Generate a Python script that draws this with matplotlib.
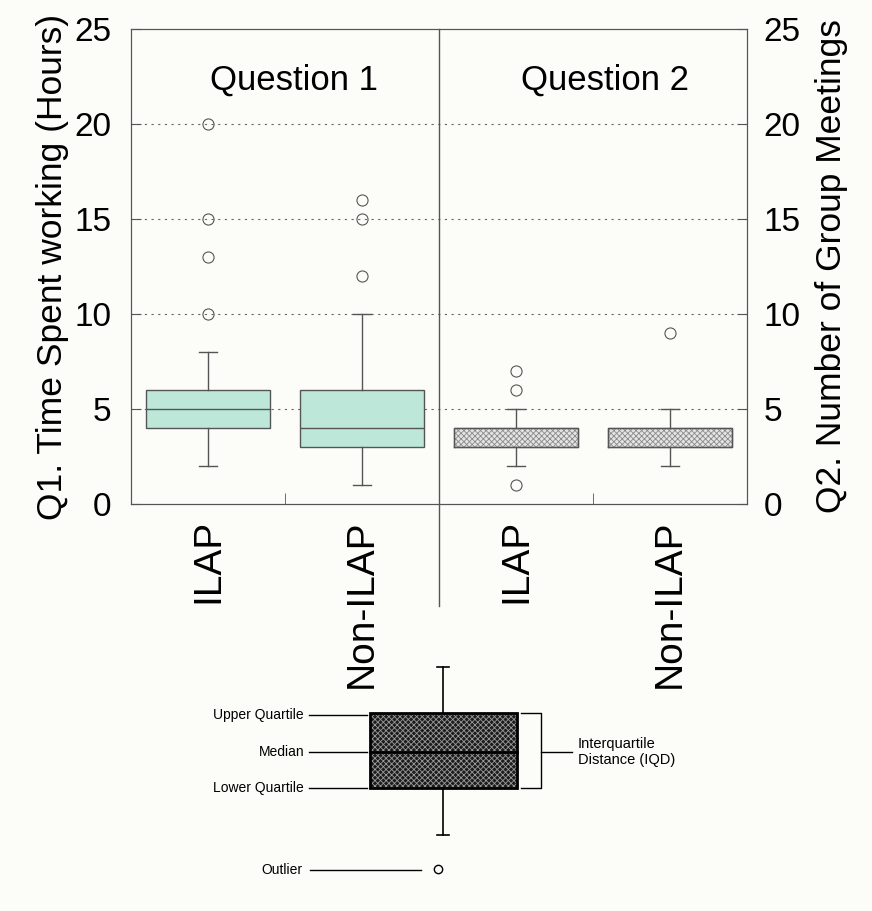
import matplotlib.pyplot as plt
from matplotlib.patches import Rectangle
from matplotlib.transforms import blended_transform_factory

plt.rcParams['font.family'] = ['Liberation Sans', 'DejaVu Sans']
plt.rcParams['hatch.linewidth'] = 0.6

# datos
grupos = ["ILAP", "Non-ILAP", "ILAP", "Non-ILAP"]
bigote_inf = [2, 1, 2, 2]
cuartil_inf = [4, 3, 3, 3]
mediana = [5, 4, 3, 3]
cuartil_sup = [6, 6, 4, 4]
bigote_sup = [8, 10, 5, 5]
atipicos = [[10, 13, 15, 20], [12, 15, 16], [1, 6, 7], [9]]
titulos = ["Question 1", "Question 2"]
marcas_y = [0, 5, 10, 15, 20, 25]
rejilla_y = [5, 10, 15, 20]

fondo = '#fcfcf8'
gris = '#555555'

fig = plt.figure(figsize=(8.72, 9.11), dpi=100, facecolor=fondo)
ax = fig.add_axes([131/872, 1-504/911, 616/872, 475/911], facecolor=fondo)

stats = []
for i in range(len(grupos)):
    stats.append({"whislo": bigote_inf[i], "q1": cuartil_inf[i], "med": mediana[i],
                  "q3": cuartil_sup[i], "whishi": bigote_sup[i], "fliers": atipicos[i]})
pos = list(range(1, len(grupos) + 1))

# rejilla punteada
for v in rejilla_y:
    ax.axhline(v, color='#666666', lw=0.8, ls=(0, (2, 4)), zorder=0)

flier = dict(marker='o', markersize=8, markerfacecolor='none', markeredgecolor=gris, markeredgewidth=0.8)
bp = ax.bxp(stats, positions=pos, widths=0.8, patch_artist=True, showfliers=True,
            flierprops=flier,
            boxprops=dict(edgecolor=gris, linewidth=1),
            medianprops=dict(color=gris, linewidth=1),
            whiskerprops=dict(color=gris, linewidth=1),
            capprops=dict(color=gris, linewidth=1), capwidths=0.12, zorder=2)
for i, caja in enumerate(bp['boxes']):
    if i < 2:
        caja.set_facecolor('#bde8d9')
    else:
        caja.set_facecolor('#e4e4e4')
        caja.set_edgecolor('#8a8a8a')
        caja.set_hatch('xxxxxx')
        bp['medians'][i].set_visible(False)
# contorno de las cajas con trama
ax.bxp(stats[2:], positions=pos[2:], widths=0.8, showfliers=False,
       boxprops=dict(color=gris, linewidth=1), medianprops=dict(visible=False),
       whiskerprops=dict(visible=False), capprops=dict(visible=False), zorder=3)

ax.set_xlim(0.5, 4.5)
ax.set_ylim(0, 25)
ax.set_xticks(pos)
ax.set_xticklabels(grupos, rotation=90, fontsize=28, va='top')
ax.set_xticks([1.5, 3.5], minor=True)
ax.tick_params(axis='x', which='major', length=0, pad=11)
ax.tick_params(axis='x', which='minor', direction='in', length=8, color=gris)
ax.set_yticks(marcas_y)
ax.tick_params(axis='y', direction='in', length=7, color=gris, labelsize=24, pad=14)
for s in ax.spines.values():
    s.set_color(gris)

# linea divisoria entre preguntas
trans = blended_transform_factory(ax.transData, ax.transAxes)
ax.plot([2.5, 2.5], [-0.215, 1], color=gris, lw=1, transform=trans, clip_on=False)

ax.text(1.56, 22.3, titulos[0], ha='center', va='center', fontsize=25)
ax.text(3.58, 22.3, titulos[1], ha='center', va='center', fontsize=25)

ax.set_ylabel("Q1. Time Spent working (Hours)", fontsize=25.5, labelpad=4)

ax2 = ax.twinx()
ax2.set_ylim(0, 25)
ax2.set_yticks(marcas_y)
ax2.tick_params(axis='y', direction='in', length=7, color=gris, labelsize=24, pad=12)
ax2.set_ylabel("Q2. Number of Group Meetings", fontsize=25.5, labelpad=10)
for s in ax2.spines.values():
    s.set_color(gris)

# ===== diagrama explicativo =====
leg = fig.add_axes([0, 0, 1, 1], facecolor='none')
leg.set_xlim(0, 872)
leg.set_ylim(911, 0)
leg.axis('off')

cx, x0, x1 = 443, 370, 517
y_sup, y_med, y_inf = 713, 752, 788
y_bs, y_bi = 667, 835
leg.add_patch(Rectangle((x0, y_sup), x1 - x0, y_inf - y_sup, facecolor='#1c1c1c',
                        edgecolor='#9a9a9a', hatch='xxxxxx', lw=0))
leg.add_patch(Rectangle((x0, y_sup), x1 - x0, y_inf - y_sup, facecolor='none',
                        edgecolor='black', lw=2))
leg.plot([x0, x1], [y_med, y_med], color='black', lw=2)
leg.plot([cx, cx], [y_bs, y_sup], color='black', lw=1.2)
leg.plot([cx, cx], [y_inf, y_bi], color='black', lw=1.2)
leg.plot([cx - 6, cx + 6], [y_bs, y_bs], color='black', lw=1.2)
leg.plot([cx - 6, cx + 6], [y_bi, y_bi], color='black', lw=1.2)

etiquetas = ["Upper Quartile", "Median", "Lower Quartile"]
for texto, y in zip(etiquetas, [y_sup + 2, y_med, y_inf]):
    leg.plot([309, 367], [y, y], color='black', lw=1)
    leg.text(304, y, texto, ha='right', va='center', fontsize=10)

leg.plot([521, 541, 541, 521], [y_sup, y_sup, y_inf, y_inf], color='black', lw=1)
leg.plot([541, 572], [y_med, y_med], color='black', lw=1)
leg.text(578, y_med, "Interquartile\nDistance (IQD)", ha='left', va='center',
         fontsize=10.5, linespacing=1.1)

leg.plot([310, 421], [870, 870], color='black', lw=1)
leg.text(302, 870, "Outlier", ha='right', va='center', fontsize=10)
leg.plot([438], [869], marker='o', markersize=6, markerfacecolor='none',
         markeredgecolor='black', markeredgewidth=1)

plt.savefig("out.png", dpi=100, facecolor=fondo)
